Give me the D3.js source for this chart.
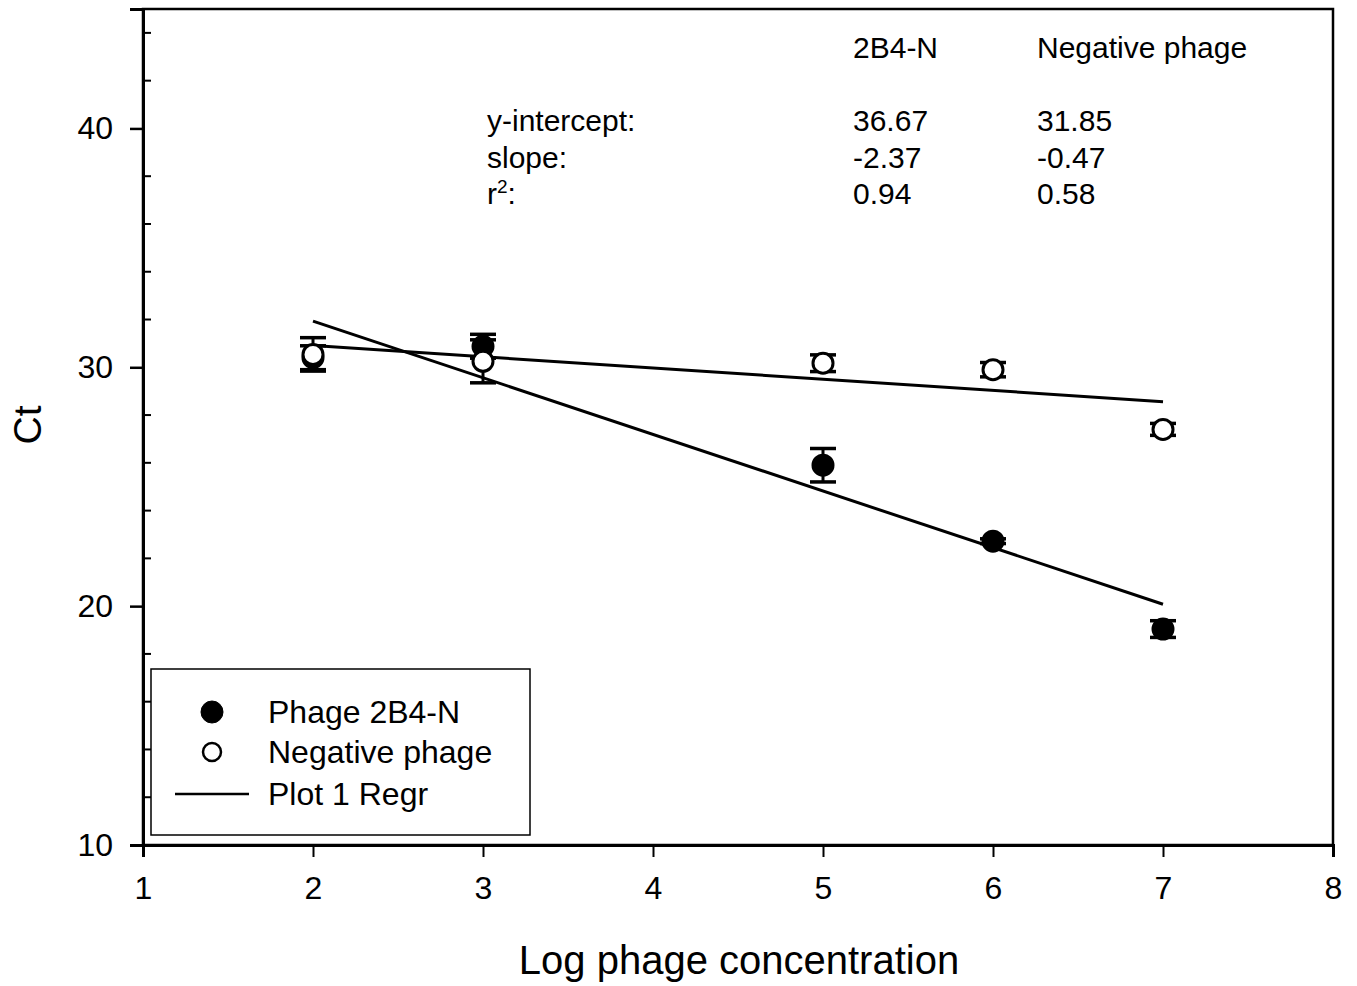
<!DOCTYPE html>
<html>
<head>
<meta charset="utf-8">
<script src="https://cdn.jsdelivr.net/npm/d3@7"></script>
<style>
  body { margin: 0; background: #fff; }
  text { font-family: "Liberation Sans", Arial, sans-serif; fill: #000; }
</style>
</head>
<body>
<script>
// data
var xVals = [2, 3, 5, 6, 7];
var phageCt = [30.4, 30.88, 25.9, 22.72, 19.04];
var phageErr = [0.5, 0.5, 0.7, 0.1, 0.35];
var negCt = [30.54, 30.25, 30.17, 29.9, 27.4];
var negErr = [0.7, 0.9, 0.35, 0.3, 0.25];

var regrNames = ["2B4-N", "Negative phage"];
var intercepts = [36.67, 31.85];
var slopes = [-2.37, -0.47];
var rSquared = [0.94, 0.58];

var xTicks = [1, 2, 3, 4, 5, 6, 7, 8];
var yTicks = [10, 20, 30, 40];
var yMinor = [12, 14, 16, 18, 22, 24, 26, 28, 32, 34, 36, 38, 42, 44];

var width = 1357, height = 986;
var margin = {top: 9, right: 24, bottom: 141, left: 143};

var svg = d3.select("body").append("svg")
  .attr("width", width)
  .attr("height", height);

var x = d3.scaleLinear().domain([1, 8]).range([margin.left, width - margin.right]);
var y = d3.scaleLinear().domain([10, 45]).range([height - margin.bottom, margin.top]);

// frame
svg.append("rect")
  .attr("x", x(1)).attr("y", y(45))
  .attr("width", x(8) - x(1)).attr("height", y(10) - y(45))
  .attr("fill", "none").attr("stroke", "#000").attr("stroke-width", 2.5);

// x axis
var xAxis = svg.append("g")
  .attr("transform", "translate(0," + y(10) + ")")
  .call(d3.axisBottom(x).tickValues(xTicks).tickSize(12).tickPadding(19).tickFormat(d3.format("d")));
xAxis.select(".domain").attr("stroke-width", 3);
xAxis.selectAll(".tick line").attr("stroke-width", 2);
xAxis.selectAll("text").style("font-size", "32px");

// y axis
var yAxis = svg.append("g")
  .attr("transform", "translate(" + x(1) + ",0)")
  .call(d3.axisLeft(y).tickValues(yTicks).tickSize(13).tickPadding(17).tickFormat(d3.format("d")));
yAxis.select(".domain").attr("stroke-width", 3);
yAxis.selectAll(".tick line").attr("stroke-width", 2.5);
yAxis.selectAll("text").style("font-size", "32px");

svg.append("g").selectAll("line")
  .data(yMinor).enter().append("line")
  .attr("x1", x(1)).attr("x2", x(1) + 8)
  .attr("y1", function(d) { return y(d); })
  .attr("y2", function(d) { return y(d); })
  .attr("stroke", "#000").attr("stroke-width", 2);

// axis titles
svg.append("text")
  .attr("x", (x(1) + x(8)) / 2 + 1).attr("y", 974)
  .attr("text-anchor", "middle")
  .style("font-size", "40px")
  .text("Log phage concentration");

svg.append("text")
  .attr("transform", "translate(41,425) rotate(-90)")
  .attr("text-anchor", "middle")
  .style("font-size", "39px")
  .text("Ct");

// regression lines
regrNames.forEach(function(n, i) {
  svg.append("line")
    .attr("x1", x(2)).attr("x2", x(7))
    .attr("y1", y(intercepts[i] + slopes[i] * 2))
    .attr("y2", y(intercepts[i] + slopes[i] * 7))
    .attr("stroke", "#000").attr("stroke-width", 3);
});

function drawSeries(vals, errs, fill) {
  var g = svg.append("g");
  var pts = xVals.map(function(d, i) { return {x: d, y: vals[i], e: errs[i]}; });
  var eb = g.selectAll(".eb").data(pts).enter().append("g");
  eb.append("line")
    .attr("x1", function(d) { return x(d.x); })
    .attr("x2", function(d) { return x(d.x); })
    .attr("y1", function(d) { return y(d.y - d.e); })
    .attr("y2", function(d) { return y(d.y + d.e); })
    .attr("stroke", "#000").attr("stroke-width", 3);
  [-1, 1].forEach(function(s) {
    eb.append("line")
      .attr("x1", function(d) { return x(d.x) - 13; })
      .attr("x2", function(d) { return x(d.x) + 13; })
      .attr("y1", function(d) { return y(d.y + s * d.e); })
      .attr("y2", function(d) { return y(d.y + s * d.e); })
      .attr("stroke", "#000").attr("stroke-width", 3.5);
  });
  g.selectAll("circle").data(pts).enter().append("circle")
    .attr("cx", function(d) { return x(d.x); })
    .attr("cy", function(d) { return y(d.y); })
    .attr("r", 10)
    .attr("fill", fill).attr("stroke", "#000").attr("stroke-width", 3);
}
drawSeries(phageCt, phageErr, "#000");
drawSeries(negCt, negErr, "#fff");

// stats table
var colX = [853, 1037];
var rowLabels = ["y-intercept:", "slope:", "r"];
var rowY = [131, 168, 204];
var fs = "30px";
regrNames.forEach(function(n, i) {
  svg.append("text").attr("x", colX[i]).attr("y", 58).style("font-size", fs).text(n);
  svg.append("text").attr("x", colX[i]).attr("y", rowY[0]).style("font-size", fs).text(intercepts[i].toFixed(2));
  svg.append("text").attr("x", colX[i]).attr("y", rowY[1]).style("font-size", fs).text(slopes[i].toFixed(2));
  svg.append("text").attr("x", colX[i]).attr("y", rowY[2]).style("font-size", fs).text(rSquared[i].toFixed(2));
});
rowLabels.forEach(function(l, i) {
  var t = svg.append("text").attr("x", 487).attr("y", rowY[i]).style("font-size", fs).text(l);
  if (l === "r") {
    t.append("tspan").attr("dy", -11).style("font-size", "19px").text("2");
    t.append("tspan").attr("dy", 11).text(":");
  }
});

// legend
var lg = svg.append("g");
lg.append("rect")
  .attr("x", 151).attr("y", 669).attr("width", 379).attr("height", 166)
  .attr("fill", "#fff").attr("stroke", "#000").attr("stroke-width", 1.5);
var legItems = ["Phage 2B4-N", "Negative phage", "Plot 1 Regr"];
var legY = [712, 752, 794];
legItems.forEach(function(l, i) {
  if (i < 2) {
    lg.append("circle").attr("cx", 212).attr("cy", legY[i])
      .attr("r", i === 0 ? 11 : 9)
      .attr("fill", i === 0 ? "#000" : "#fff")
      .attr("stroke", "#000").attr("stroke-width", i === 0 ? 1 : 2.5);
  } else {
    lg.append("line").attr("x1", 175).attr("x2", 249)
      .attr("y1", legY[i]).attr("y2", legY[i])
      .attr("stroke", "#000").attr("stroke-width", 2.5);
  }
  lg.append("text").attr("x", 268).attr("y", legY[i] + 11)
    .style("font-size", "32px").text(l);
});
</script>
</body>
</html>
